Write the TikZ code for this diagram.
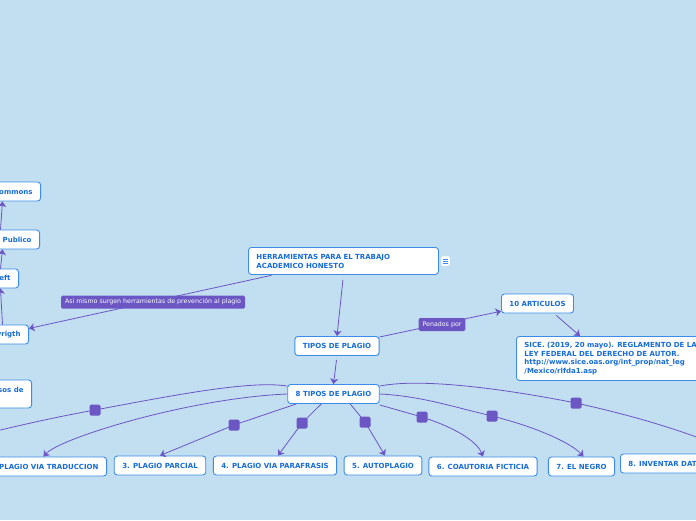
\documentclass[tikz,border=0pt]{standalone}
\usepackage{fontspec}
\setmainfont{DejaVu Sans}
\usetikzlibrary{arrows.meta}

\definecolor{bgblue}{RGB}{194,222,241}
\definecolor{boxline}{RGB}{58,140,232}
\definecolor{boxtext}{RGB}{22,108,214}
\definecolor{mmpurple}{RGB}{107,86,196}

\tikzset{
  topic/.style={draw=boxline, fill=white, rounded corners=3pt, line width=0.9pt,
    text=boxtext, font=\fontsize{7}{9}\selectfont\bfseries, inner xsep=8pt,
    inner ysep=2pt, minimum height=19pt},
  tag/.style={fill=mmpurple, rounded corners=1.5pt, text=white,
    font=\fontsize{6.3}{7}\selectfont, inner xsep=4pt, inner ysep=1pt, minimum height=13pt},
  conn/.style={draw=mmpurple, line width=0.8pt},
  arr/.style={conn, -{Stealth[length=5.5pt,width=8pt,inset=1.5pt]}},
  knot/.style={fill=mmpurple, rounded corners=1.5pt, minimum size=11pt, inner sep=0pt},
}

\begin{document}
\begin{tikzpicture}[x=1pt,y=1pt,yscale=-1,xscale=1]
\fill[bgblue] (0,0) rectangle (696,520);
\useasboundingbox (0,0) rectangle (696,520);
\clip (0,0) rectangle (696,520);

% central topic
\node[topic, anchor=north west, align=left, text width=174pt, minimum height=27pt] (root) at (248,247) {HERRAMIENTAS PARA EL TRABAJO\\ACADEMICO HONESTO};
\node[draw=boxline!40, fill=white, rounded corners=1pt, minimum width=9pt, minimum height=10pt, inner sep=0pt] (note) at (445.5,261) {};
\foreach \dy in {-2,0,2}
  \draw[boxline, line width=0.6pt] ([xshift=-2.5pt,yshift=\dy pt]note.center) -- ++(5,0);

% main branch
\node[topic] (tipos) at (337,346) {TIPOS DE PLAGIO};
\node[topic] (ocho) at (333.5,394) {8 TIPOS DE PLAGIO};
\node[topic] (art) at (537.5,303.5) {10 ARTICULOS};
\node[topic, anchor=north west, align=left, minimum height=44pt, font=\fontsize{7}{8.7}\selectfont\bfseries] (sice) at (516,336) {SICE. (2019, 20 mayo). REGLAMENTO DE LA\\LEY FEDERAL DEL DERECHO DE AUTOR.\\http://www.sice.oas.org/int\_prop/nat\_leg\\/Mexico/rlfda1.asp};

% left branch
\node[topic, anchor=east] (cc) at (41,191.5) {Creative Commons};
\node[topic, anchor=east] (dp) at (40,239.5) {Dominio Publico};
\node[topic, anchor=east] (cl) at (19,278.5) {Copyleft};
\node[topic, anchor=east] (cr) at (29,334.5) {Copyrigth};
\node[topic, anchor=east, align=left, minimum height=28pt] (us) at (32,394) {Usos de\\~};

% types
\node[topic, anchor=east] (p2) at (107,466.5) {2. PLAGIO VIA TRADUCCION};
\node[topic] (p3) at (160,465.5) {3. PLAGIO PARCIAL};
\node[topic] (p4) at (275,465.5) {4. PLAGIO VIA PARAFRASIS};
\node[topic] (p5) at (383,465.5) {5. AUTOPLAGIO};
\node[topic] (p6) at (483,466.5) {6. COAUTORIA FICTICIA};
\node[topic] (p7) at (581.5,466.5) {7. EL NEGRO};
\node[topic, anchor=west] (p8) at (620,463.5) {8. INVENTAR DATOS};
\coordinate (p1) at (-30,437);
\coordinate (p9) at (720,446);

% connectors
\draw[arr, shorten <=5pt] (root.south) -- (tipos.north);
\draw[arr, shorten <=2pt] ([xshift=-70pt]root.south) -- (cr);
\node[tag] (asi) at (153,302) {Asi mismo surgen herramientas de prevención al plagio};
\draw[arr] (tipos) -- (art);
\node[tag] (pen) at (442,324.5) {Penados por};
\draw[arr, shorten <=3pt] ([xshift=16.5pt]art.south) -- ([xshift=64pt]sice.north west);
\draw[arr, shorten <=4pt] (tipos.south) -- (ocho.north);

\coordinate (edgea) at (2.5,0);
\coordinate (edgeb) at (0.5,0);
\draw[arr] (cr.north -| edgea) -- (cl.south -| edgeb);
\draw[arr] (cl.north -| edgeb) -- (dp.south -| edgea);
\draw[arr] (dp.north -| edgeb) -- (cc.south -| edgea);

\coordinate (k1) at (95,410);
\coordinate (k3) at (234,425);
\coordinate (k4) at (302,423);
\coordinate (k5) at (365,422);
\coordinate (k6) at (422,417);
\coordinate (k7) at (492,416);
\coordinate (k8) at (576,403);

\draw[conn] ([yshift=2pt]ocho.north west) .. controls (250,380) and (170,396) .. (k1) .. controls (40,420) and (10,428) .. (p1);
\draw[arr] (ocho.west) .. controls (190,398) and (60,438) .. (p2.north);
\draw[arr] ([xshift=9pt]ocho.south west) -- (k3) -- (p3.north);
\draw[arr] ([xshift=34pt]ocho.south west) -- (k4) -- ([xshift=3pt]p4.north);
\draw[arr] ([xshift=63pt]ocho.south west) -- (k5) -- ([xshift=2pt]p5.north);
\draw[arr] ([yshift=1pt]ocho.south east) -- (k6) .. controls (462,430) and (478,444) .. (p6.north);
\draw[arr] (ocho.east) .. controls (420,396) and (450,406) .. (k7) .. controls (540,428) and (572,444) .. ([xshift=2pt]p7.north);
\draw[conn] ([yshift=2pt]ocho.north east) .. controls (420,378) and (500,388) .. (k8) .. controls (630,415) and (675,428) .. (p9);

\foreach \k in {k1,k3,k4,k5,k6,k7,k8}
  \node[knot] at (\k) {};

\end{tikzpicture}
\end{document}
